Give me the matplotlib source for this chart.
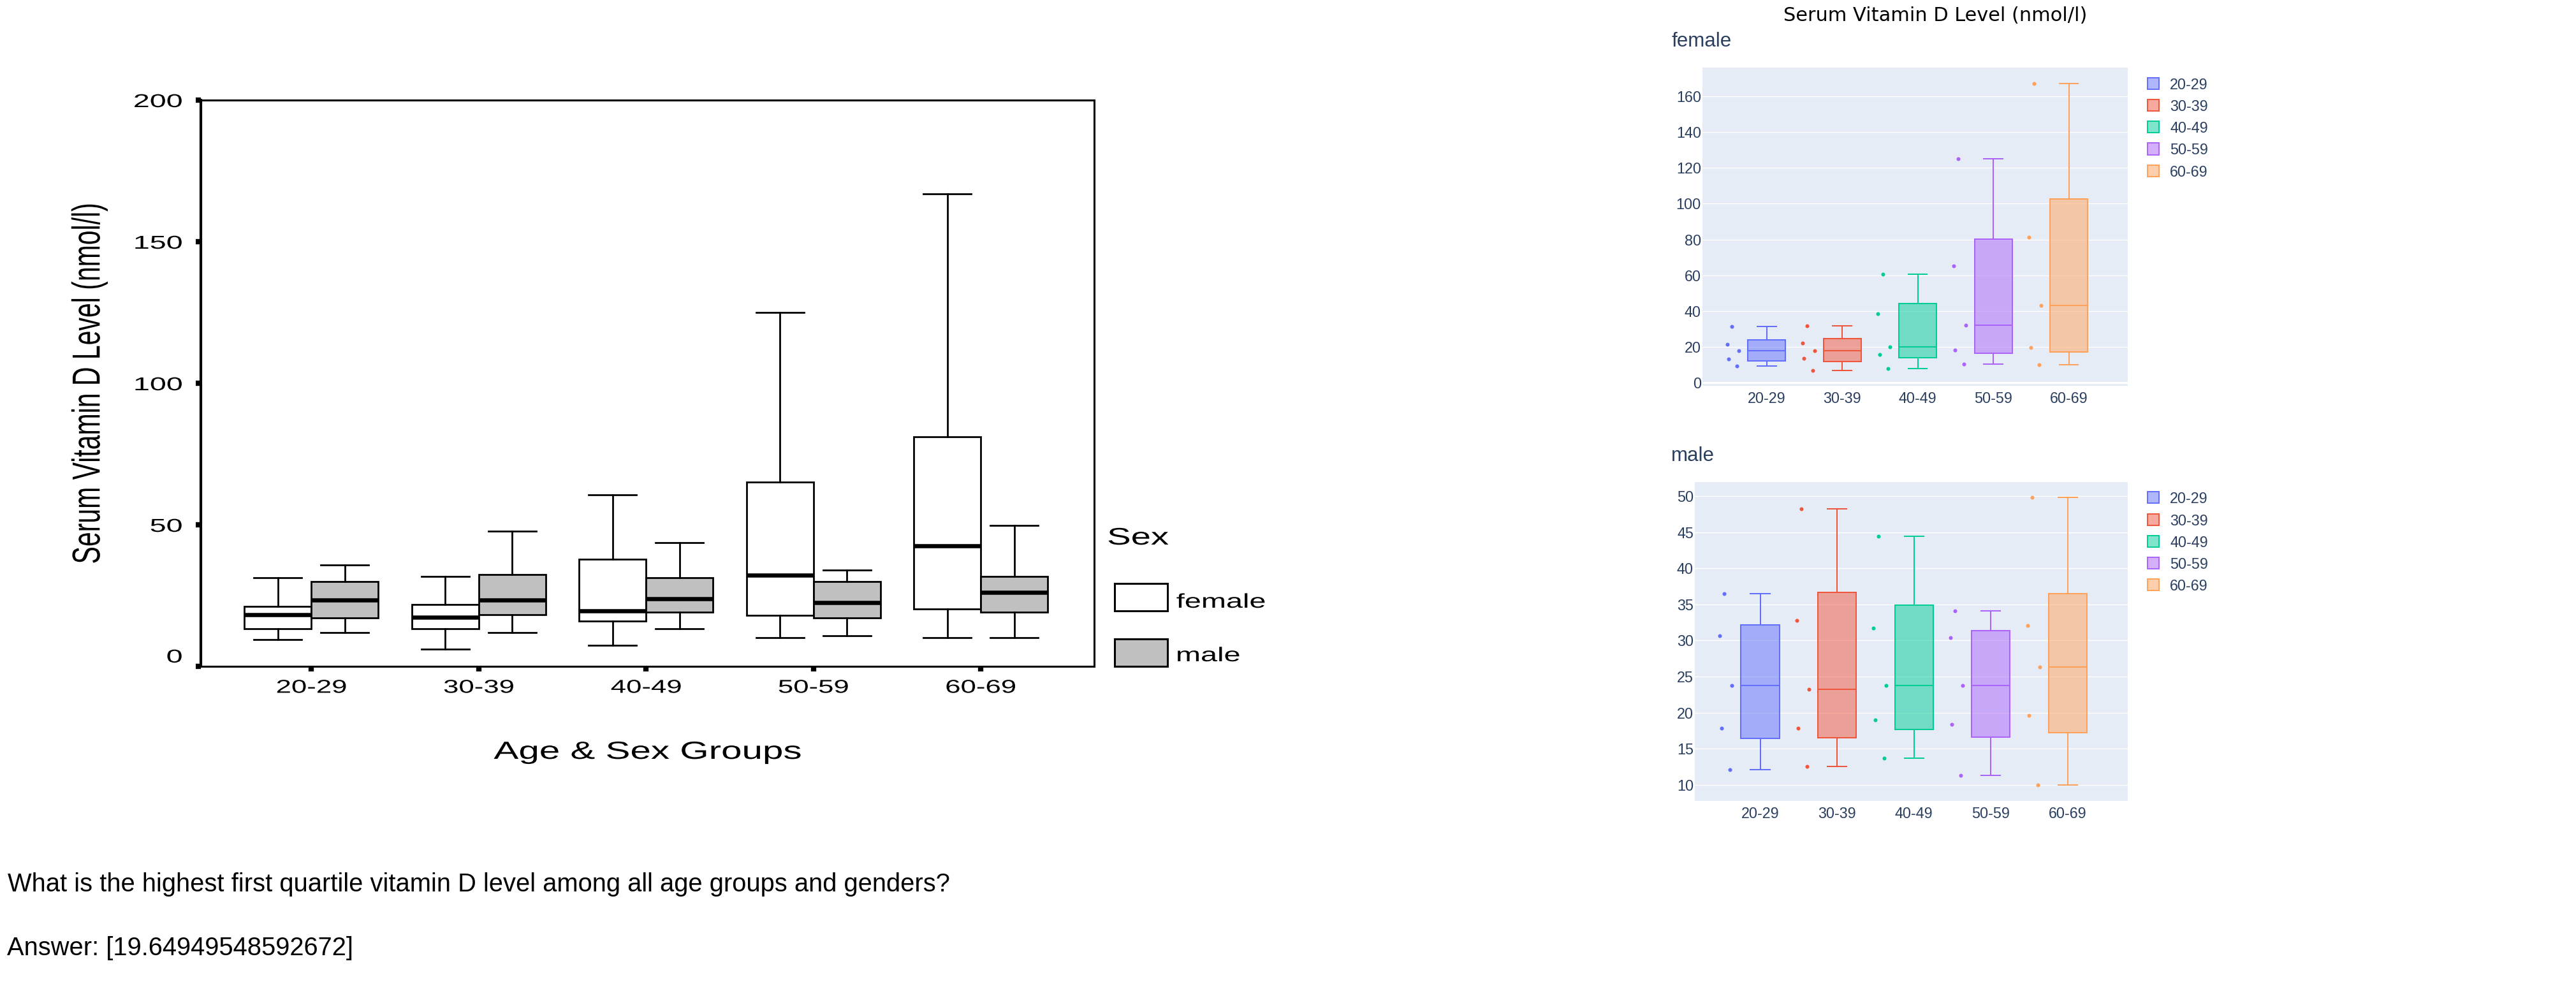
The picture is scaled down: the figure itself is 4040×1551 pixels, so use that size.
import numpy as np
import matplotlib
matplotlib.use('Agg')
import matplotlib.pyplot as plt
import matplotlib.patheffects as pe
from matplotlib.patches import Rectangle
from matplotlib.transforms import Affine2D
from matplotlib.colors import to_rgba

W, H = 4040, 1551

# ---- data ----
age_groups = ['20-29', '30-39', '40-49', '50-59', '60-69']
sexes = ['female', 'male']

# left chart (SPSS style), box stats
fem_lo = [9.4, 6.1, 7.4, 10.2, 10.2]
fem_q1 = [13.4, 13.4, 16.0, 18.0, 20.2]
fem_med = [18.2, 17.4, 19.5, 32.1, 42.5]
fem_q3 = [21.2, 21.8, 37.9, 65.0, 81.0]
fem_hi = [31.2, 31.7, 60.5, 125.1, 166.8]

male_lo = [11.9, 11.9, 13.4, 10.7, 10.2]
male_q1 = [17.2, 18.2, 19.2, 17.2, 19.2]
male_med = [23.5, 23.5, 23.8, 22.6, 26.1]
male_q3 = [29.9, 32.4, 31.2, 29.9, 31.7]
male_hi = [35.9, 47.8, 43.8, 33.9, 49.8]

spss_yticks = [0, 50, 100, 150, 200]

# right charts (plotly style), the points of each age group, high to low
female_pts = [[31.3, 21.6, 17.9, 13.1, 9.4],
              [31.8, 22.2, 17.9, 13.6, 6.7],
              [60.5, 38.6, 20.1, 15.9, 7.9],
              [125.0, 65.2, 32.3, 18.4, 10.5],
              [167.1, 81.3, 43.3, 19.7, 10.0]]
male_pts = [[36.5, 30.7, 23.8, 17.9, 12.1],
            [48.2, 32.8, 23.2, 17.9, 12.6],
            [44.4, 31.7, 23.8, 19.0, 13.7],
            [34.1, 30.4, 23.8, 18.4, 11.3],
            [49.8, 32.1, 26.3, 19.6, 10.0]]
female_yticks = [0, 20, 40, 60, 80, 100, 120, 140, 160]
male_yticks = [10, 15, 20, 25, 30, 35, 40, 45, 50]

question = 'What is the highest first quartile vitamin D level among all age groups and genders?'
answer = 'Answer: [19.64949548592672]'

# ---- style ----
plotly_colors = ['#636EFA', '#EF553B', '#00CC96', '#AB63FA', '#FFA15A']
jitter = [-0.465, -0.525, -0.366, -0.505, -0.39]  # plotly point offsets (same for every group)
PL_TXT = '#2a3f5f'
SANS = 'Liberation Sans'


class Stretch(pe.AbstractPathEffect):
    # the SPSS picture is a horizontally stretched scan, widen the glyphs the same way
    def __init__(self, s=1.5, anchor='center', axis='x'):
        super().__init__()
        self.s = s
        self.anchor = anchor
        self.axis = axis

    def draw_path(self, renderer, gc, tpath, affine, rgbFace=None):
        ext = tpath.get_extents()
        if self.axis == 'x':
            c = {'left': ext.x0, 'center': (ext.x0 + ext.x1) / 2, 'right': ext.x1}[self.anchor]
            t = Affine2D().translate(-c, 0).scale(self.s, 1).translate(c, 0)
        else:
            c = (ext.y0 + ext.y1) / 2
            t = Affine2D().translate(0, -c).scale(1, self.s).translate(0, c)
        renderer.draw_path(gc, tpath, t + affine, rgbFace)


def px_rect(x0, y0, x1, y1):
    return [x0 / W, 1 - y1 / H, (x1 - x0) / W, (y1 - y0) / H]


def fx(x):
    return x / W


def fy(y):
    return 1 - y / H


fig = plt.figure(figsize=(W / 100, H / 100), dpi=100)

# ================= left chart =================
ax = fig.add_axes(px_rect(315, 157, 1716, 1045))
pos = np.arange(1, len(age_groups) + 1)

groups = [(fem_lo, fem_q1, fem_med, fem_q3, fem_hi, -0.2, 'white'),
          (male_lo, male_q1, male_med, male_q3, male_hi, 0.2, '#c0c0c0')]
for lo, q1, med, q3, hi, off, fc in groups:
    st = [dict(whislo=a, q1=b, med=c, q3=d, whishi=e, fliers=[])
          for a, b, c, d, e in zip(lo, q1, med, q3, hi)]
    ax.bxp(st, positions=pos + off, widths=0.4, capwidths=0.286, patch_artist=True,
           showfliers=False, manage_ticks=False,
           boxprops=dict(facecolor=fc, edgecolor='black', linewidth=2),
           medianprops=dict(color='black', linewidth=4.7, solid_capstyle='butt'),
           whiskerprops=dict(color='black', linewidth=2),
           capprops=dict(color='black', linewidth=2))

ax.set_xlim(0.339, 5.678)
ax.set_ylim(0, 200)
ax.set_xticks(pos)
ax.set_xticklabels(age_groups, family=SANS, fontsize=21)
ax.set_yticks(spss_yticks)
ax.set_yticklabels([str(v) for v in spss_yticks], family=SANS, fontsize=21)
ax.tick_params(axis='both', direction='out', length=6, width=6, color='black')
ax.tick_params(axis='y', pad=15)
ax.tick_params(axis='x', pad=8)
ax.spines['left'].set_linewidth(3)
for s in ['top', 'right', 'bottom']:
    ax.spines[s].set_linewidth(2.2)

for lbl in ax.get_xticklabels():
    lbl.set_path_effects([Stretch(anchor='center')])
for lbl in ax.get_yticklabels():
    lbl.set_path_effects([Stretch(s=1.6, anchor='right')])
ax.get_yticklabels()[0].set_verticalalignment('bottom')

ax.set_xlabel('Age & Sex Groups', family=SANS, fontsize=28,
              path_effects=[Stretch(anchor='center')])
ax.xaxis.set_label_coords(0.5, -0.1318)
ax.set_ylabel('Serum Vitamin D Level (nmol/l)', family=SANS, fontsize=29.5,
              path_effects=[Stretch(axis='y')])
ax.yaxis.label.set_verticalalignment('center')
ax.yaxis.set_label_coords(-0.1249, 0.5)

# legend of the left chart
fig.text(fx(1737), fy(854), 'Sex', family=SANS, fontsize=27, ha='left', va='baseline',
         path_effects=[Stretch(anchor='left')])
for name, fc, top, base in [(sexes[0], 'white', 915, 953), (sexes[1], '#c0c0c0', 1002, 1037)]:
    fig.add_artist(Rectangle((fx(1748), fy(top + 43)), 83 / W, 43 / H, transform=fig.transFigure,
                             facecolor=fc, edgecolor='black', linewidth=2.2))
    fig.text(fx(1845), fy(base), name, family=SANS, fontsize=22.5, ha='left', va='baseline',
             path_effects=[Stretch(anchor='left')])


# ================= right charts =================
def plotly_panel(rect, pts, yticks, ylim, zero=False):
    a = fig.add_axes(px_rect(*rect))
    a.set_facecolor('#E5ECF6')
    for i, (p, c) in enumerate(zip(pts, plotly_colors)):
        p = np.array(p)
        q1, med, q3 = np.percentile(p, [25, 50, 75], method='hazen')
        iqr = q3 - q1
        lo = p[p >= q1 - 1.5 * iqr].min()
        hi = p[p <= q3 + 1.5 * iqr].max()
        a.bxp([dict(whislo=lo, q1=q1, med=med, q3=q3, whishi=hi, fliers=[])],
              positions=[i], widths=0.5, capwidths=0.25, patch_artist=True,
              showfliers=False, manage_ticks=False,
              boxprops=dict(facecolor=to_rgba(c, 0.5), edgecolor=c, linewidth=1.45),
              medianprops=dict(color=c, linewidth=1.45),
              whiskerprops=dict(color=c, linewidth=1.45),
              capprops=dict(color=c, linewidth=1.45))
        a.scatter(i + np.array(jitter), p, s=19, color=c, linewidths=0, zorder=3)
    a.set_xlim(-0.85, 4.78)
    a.set_ylim(*ylim)
    a.set_xticks(range(len(age_groups)))
    a.set_xticklabels(age_groups)
    a.set_yticks(yticks)
    a.grid(axis='y', color='white', linewidth=1.0)
    a.set_axisbelow(True)
    if zero:
        a.axhline(0, color='white', linewidth=2.2, zorder=1)
    for s in a.spines.values():
        s.set_visible(False)
    a.tick_params(axis='both', length=0, labelcolor=PL_TXT, labelsize=16.8)
    a.tick_params(axis='y', pad=1.5)
    a.tick_params(axis='x', pad=6.5)
    for lbl in a.get_xticklabels() + a.get_yticklabels():
        lbl.set_family(SANS)
    return a


plotly_panel((2670, 106, 3337, 605), female_pts, female_yticks, (-1.7, 176.0), zero=True)
plotly_panel((2658, 756, 3337, 1256), male_pts, male_yticks, (7.79, 51.94))

fig.text(fx(3035), fy(10), 'Serum Vitamin D Level (nmol/l)', family='DejaVu Sans',
         fontsize=21.9, color='black', ha='center', va='top')
fig.text(fx(2621), fy(73), sexes[0], family=SANS, fontsize=22.5, color=PL_TXT, va='baseline')
fig.text(fx(2621), fy(723), sexes[1], family=SANS, fontsize=22.5, color=PL_TXT, va='baseline')

# legends (one per panel)
for first in [130.6, 780.2]:
    for i, (g, c) in enumerate(zip(age_groups, plotly_colors)):
        yc = first + i * 34.3
        fig.add_artist(Rectangle((fx(3368), fy(yc + 9)), 18 / W, 18 / H, transform=fig.transFigure,
                                 facecolor=to_rgba(c, 0.5), edgecolor=c, linewidth=1.4))
        fig.text(fx(3403), fy(yc), g, family=SANS, fontsize=16.8, color=PL_TXT,
                 ha='left', va='center_baseline')

# ================= question / answer =================
fig.text(fx(12), fy(1398), question, family=SANS, fontsize=28.7, color='black', va='baseline')
fig.text(fx(11), fy(1498), answer, family=SANS, fontsize=28.7, color='black', va='baseline')

fig.savefig('out.png', dpi=100)
